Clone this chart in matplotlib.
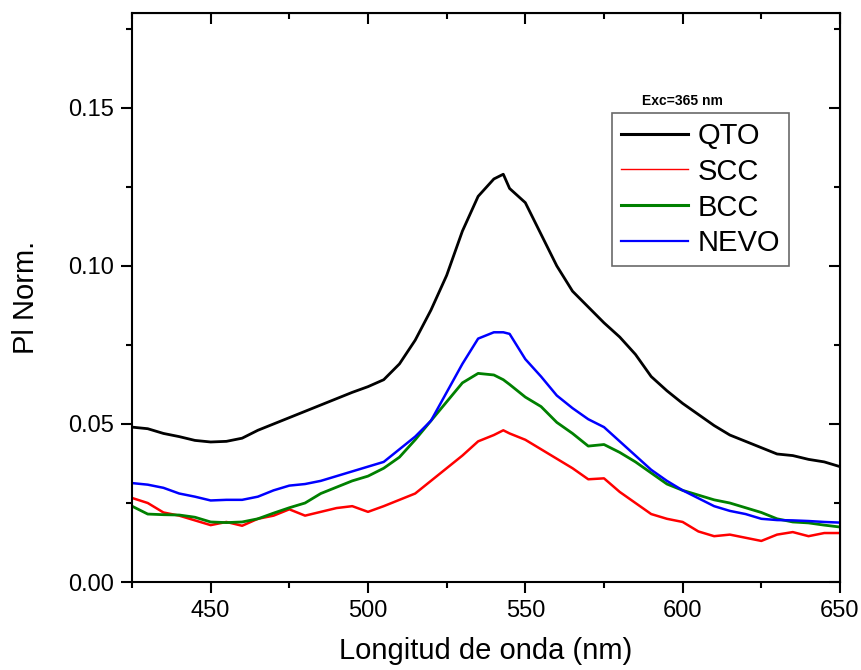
import numpy as np
import matplotlib.pyplot as plt
from matplotlib.lines import Line2D
from matplotlib.ticker import MultipleLocator

plt.rcParams['font.family'] = ['Liberation Sans', 'DejaVu Sans']

# wavelength grid (nm)
wl = [425, 430, 435, 440, 445, 450, 455, 460, 465, 470,
      475, 480, 485, 490, 495, 500, 505, 510, 515, 520,
      525, 530, 535, 540, 543, 545, 550, 555, 560, 565,
      570, 575, 580, 585, 590, 595, 600, 605, 610, 615,
      620, 625, 630, 635, 640, 645, 650]

qto = [0.0490, 0.0485, 0.0470, 0.0460, 0.0448, 0.0443, 0.0445, 0.0455, 0.0480, 0.0500,
       0.0520, 0.0540, 0.0560, 0.0580, 0.0600, 0.0618, 0.0640, 0.0690, 0.0765, 0.0860,
       0.0970, 0.1110, 0.1220, 0.1275, 0.1290, 0.1245, 0.1200, 0.1100, 0.1000, 0.0920,
       0.0870, 0.0820, 0.0775, 0.0720, 0.0650, 0.0605, 0.0565, 0.0530, 0.0495, 0.0465,
       0.0445, 0.0425, 0.0405, 0.0400, 0.0388, 0.0380, 0.0365]

scc = [0.0266, 0.0250, 0.0220, 0.0210, 0.0195, 0.0180, 0.0190, 0.0178, 0.0200, 0.0210,
       0.0230, 0.0210, 0.0222, 0.0234, 0.0240, 0.0222, 0.0240, 0.0260, 0.0280, 0.0320,
       0.0360, 0.0400, 0.0445, 0.0465, 0.0480, 0.0470, 0.0450, 0.0420, 0.0390, 0.0360,
       0.0325, 0.0328, 0.0285, 0.0250, 0.0215, 0.0200, 0.0190, 0.0160, 0.0145, 0.0150,
       0.0140, 0.0130, 0.0150, 0.0158, 0.0145, 0.0155, 0.0155]

bcc = [0.0240, 0.0215, 0.0213, 0.0212, 0.0205, 0.0190, 0.0188, 0.0190, 0.0200, 0.0218,
       0.0235, 0.0250, 0.0280, 0.0300, 0.0320, 0.0335, 0.0360, 0.0395, 0.0450, 0.0510,
       0.0570, 0.0630, 0.0660, 0.0655, 0.0640, 0.0625, 0.0585, 0.0555, 0.0505, 0.0470,
       0.0430, 0.0435, 0.0410, 0.0380, 0.0345, 0.0310, 0.0290, 0.0275, 0.0260, 0.0250,
       0.0235, 0.0220, 0.0200, 0.0190, 0.0187, 0.0180, 0.0174]

nevo = [0.0313, 0.0308, 0.0298, 0.0280, 0.0270, 0.0258, 0.0260, 0.0260, 0.0270, 0.0290,
        0.0305, 0.0310, 0.0320, 0.0335, 0.0350, 0.0365, 0.0380, 0.0420, 0.0460, 0.0510,
        0.0600, 0.0690, 0.0770, 0.0790, 0.0790, 0.0785, 0.0705, 0.0650, 0.0590, 0.0550,
        0.0515, 0.0490, 0.0445, 0.0400, 0.0355, 0.0320, 0.0290, 0.0265, 0.0240, 0.0225,
        0.0215, 0.0200, 0.0196, 0.0195, 0.0193, 0.0190, 0.0188]

names = ['QTO', 'SCC', 'BCC', 'NEVO']
colors = ['black', '#ff0000', '#008000', '#0000ff']
series = [qto, scc, bcc, nevo]
widths = [2.0, 1.8, 2.0, 1.8]
leg_widths = [2.2, 1.0, 2.2, 1.6]

fig = plt.figure(figsize=(8.61, 6.70), dpi=100)
ax = fig.add_axes([0.1533, 0.1313, 0.8223, 0.8493])

for s, c, w in zip(series, colors, widths):
    ax.plot(wl, s, color=c, lw=w)

ax.set_xlim(425, 650)
ax.set_ylim(0, 0.18)
ax.xaxis.set_major_locator(MultipleLocator(50))
ax.xaxis.set_minor_locator(MultipleLocator(25))
ax.yaxis.set_major_locator(MultipleLocator(0.05))
ax.yaxis.set_minor_locator(MultipleLocator(0.025))
ax.yaxis.set_major_formatter(plt.FuncFormatter(lambda v, p: f'{v:.2f}'))

ax.tick_params(which='both', direction='out', top=False, right=False, width=1.5, labelsize=17)
ax.tick_params(which='major', length=8, pad=5)
ax.tick_params(which='minor', length=4.5)
for sp in ax.spines.values():
    sp.set_linewidth(1.5)

# mirrored ticks on top / right pointing inward
ax2 = ax.secondary_xaxis('top')
ax2.xaxis.set_major_locator(MultipleLocator(50))
ax2.xaxis.set_minor_locator(MultipleLocator(25))
ax2.tick_params(which='both', direction='in', labeltop=False, width=1.5)
ax2.tick_params(which='major', length=8)
ax2.tick_params(which='minor', length=4.5)
ax3 = ax.secondary_yaxis('right')
ax3.yaxis.set_major_locator(MultipleLocator(0.05))
ax3.yaxis.set_minor_locator(MultipleLocator(0.025))
ax3.tick_params(which='both', direction='in', labelright=False, width=1.5)
ax3.tick_params(which='major', length=8)
ax3.tick_params(which='minor', length=4.5)

ax.set_xlabel('Longitud de onda (nm)', fontsize=21, labelpad=11)
ax.set_ylabel('Pl Norm.', fontsize=21, labelpad=20)

handles = [Line2D([], [], color=c, lw=w) for c, w in zip(colors, leg_widths)]
leg = ax.legend(handles, names, loc='upper left',
                bbox_to_anchor=(612 / 861, 1 - 113 / 670),
                bbox_transform=fig.transFigure, fontsize=21, frameon=True,
                fancybox=False, borderaxespad=0, borderpad=0.3,
                handlelength=2.3, handletextpad=0.35, labelspacing=0.27)
leg.get_frame().set_edgecolor('#444444')
leg.get_frame().set_linewidth(1.2)

fig.text(682 / 861, 1 - 101 / 670, 'Exc=365 nm', fontsize=10, fontweight='bold',
         ha='center', va='center')

fig.savefig('out.png', dpi=100)
